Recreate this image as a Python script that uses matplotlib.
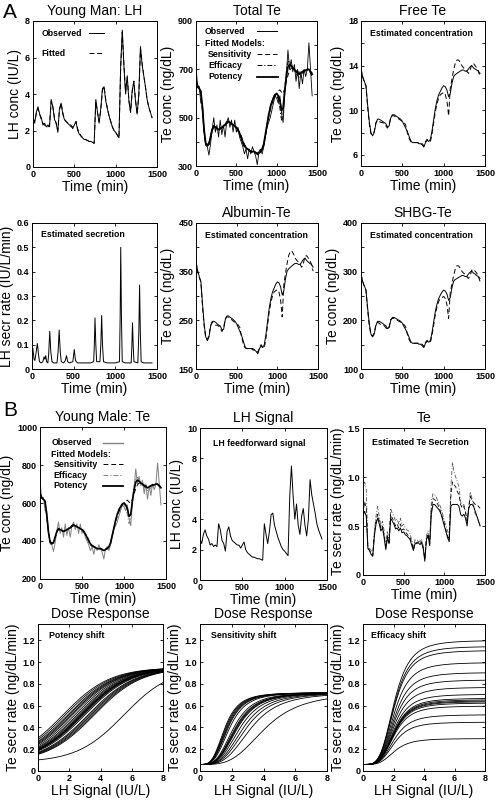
import numpy as np
import matplotlib
matplotlib.use("Agg")
import matplotlib.pyplot as plt

plt.rcParams["font.family"] = ["Liberation Sans", "DejaVu Sans"]

FIG_W, FIG_H = 496, 802

# sampling grid of the 24-h profiles (min)
TIME = np.arange(0, 1441, 20)

# --- LH concentration (observed / fitted), IU/L ---
LH_OBS = [2.7, 2.4, 3.0, 3.3, 2.9, 2.7, 2.3, 2.4, 2.2, 2.3,
          2.2, 3.7, 3.3, 2.6, 2.4, 1.9, 3.2, 3.5, 2.9, 2.6,
          2.5, 2.4, 2.3, 2.3, 2.1, 2.3, 2.5, 2.0, 1.8, 1.7,
          1.6, 1.5, 1.5, 1.45, 1.4, 1.4, 1.35, 1.3, 3.7, 3.0,
          2.4, 3.2, 4.3, 4.4, 3.6, 3.2, 2.8, 2.5, 2.2, 2.0,
          1.9, 1.75, 1.6, 5.5, 7.5, 5.5, 4.0, 5.0, 3.6, 3.0,
          4.2, 4.7, 3.6, 2.9, 4.0, 6.6, 5.6, 5.0, 4.4, 3.7,
          3.3, 3.0, 2.7]
LH_FIT = [2.7, 2.5, 2.9, 3.2, 2.9, 2.6, 2.4, 2.3, 2.2, 2.2,
          2.3, 3.6, 3.3, 2.7, 2.4, 2.0, 3.1, 3.5, 3.0, 2.6,
          2.5, 2.4, 2.3, 2.2, 2.2, 2.3, 2.5, 2.1, 1.9, 1.7,
          1.6, 1.55, 1.5, 1.45, 1.4, 1.4, 1.35, 1.3, 3.6, 3.0,
          2.5, 3.1, 4.2, 4.4, 3.7, 3.2, 2.8, 2.5, 2.2, 2.0,
          1.9, 1.75, 1.6, 5.3, 7.4, 5.6, 4.1, 4.9, 3.7, 3.0,
          4.1, 4.7, 3.7, 2.9, 3.9, 6.5, 5.7, 5.0, 4.4, 3.7,
          3.3, 3.0, 2.7]

# --- LH secretion rate (IU/L/min), pulse profile ---
LH_SEC_T = [0, 10, 25, 35, 50, 64, 78, 90, 110, 130, 145, 155, 165, 175,
            190, 200, 213, 226, 240, 260, 300, 313, 326, 339, 352, 380,
            400, 414, 428, 450, 490, 507, 522, 545, 640, 700, 740, 748,
            756, 766, 776, 815, 826, 836, 846, 858, 900, 1000, 1050, 1058,
            1065, 1073, 1083, 1120, 1190, 1198, 1206, 1215, 1224, 1270,
            1282, 1291, 1300, 1310, 1340, 1440]
LH_SEC = [0.09, 0.085, 0.04, 0.035, 0.07, 0.105, 0.06, 0.03, 0.025, 0.03,
          0.05, 0.04, 0.055, 0.03, 0.025, 0.06, 0.155, 0.07, 0.03, 0.025,
          0.025, 0.07, 0.16, 0.07, 0.03, 0.025, 0.035, 0.055, 0.03, 0.025,
          0.03, 0.08, 0.035, 0.025, 0.025, 0.025, 0.03, 0.10, 0.21, 0.10,
          0.03, 0.03, 0.10, 0.22, 0.10, 0.03, 0.025, 0.025, 0.03, 0.22,
          0.50, 0.22, 0.03, 0.025, 0.025, 0.09, 0.19, 0.09, 0.03, 0.025,
          0.15, 0.345, 0.15, 0.03, 0.025, 0.025]

# --- Total Te (ng/dL): observed and three fitted models ---
TE_OBS = [720, 625, 630, 560, 560, 450, 385, 380, 345, 390,
          450, 500, 440, 470, 420, 490, 430, 470, 420, 480,
          500, 460, 490, 440, 490, 440, 460, 420, 400, 380,
          350, 370, 330, 370, 350, 380, 360, 340, 305, 360,
          370, 350, 380, 420, 460, 480, 500, 530, 560, 590,
          580, 560, 590, 520, 480, 600, 680, 780, 700, 740,
          690, 720, 650, 700, 620, 690, 640, 700, 670, 700,
          810, 700, 590]
TE_SENS = [640, 625, 615, 600, 530, 445, 400, 390, 395, 420,
           445, 460, 458, 455, 452, 455, 458, 462, 468, 475,
           480, 478, 474, 470, 466, 460, 452, 440, 425, 405,
           390, 378, 372, 366, 362, 360, 360, 357, 354, 356,
           362, 372, 392, 428, 465, 500, 530, 555, 575, 590,
           600, 610, 615, 605, 600, 620, 650, 675, 695, 705,
           705, 700, 695, 690, 688, 690, 693, 695, 697, 698,
           698, 692, 685]
TE_EFF = [660, 635, 625, 605, 535, 440, 390, 380, 392, 425,
          455, 468, 462, 456, 448, 452, 458, 466, 472, 482,
          486, 482, 476, 470, 464, 456, 445, 430, 412, 392,
          378, 370, 366, 362, 358, 357, 356, 352, 346, 352,
          358, 366, 385, 425, 468, 510, 545, 570, 585, 600,
          595, 575, 540, 490, 520, 620, 690, 730, 735, 720,
          705, 695, 685, 675, 665, 670, 680, 690, 695, 700,
          695, 685, 670]
TE_POT = [650, 630, 620, 610, 540, 450, 395, 385, 390, 420,
          450, 465, 460, 455, 450, 455, 460, 465, 470, 480,
          485, 480, 475, 470, 465, 460, 450, 435, 420, 400,
          385, 375, 370, 365, 360, 360, 360, 355, 350, 355,
          360, 370, 390, 430, 470, 510, 540, 565, 580, 595,
          600, 590, 570, 530, 540, 610, 670, 710, 720, 715,
          705, 700, 690, 685, 680, 685, 690, 695, 695, 700,
          700, 690, 680]

# --- Estimated free / albumin-bound / SHBG-bound Te (ng/dL) ---
FREE_A = [13.7, 13.0, 12.6, 12.2, 10.5, 9.0, 8.0, 7.7, 8.0, 8.8,
          9.2, 9.2, 9.1, 9.0, 8.9, 8.8, 8.5, 8.6, 9.3, 9.6,
          9.6, 9.5, 9.4, 9.3, 9.2, 9.0, 8.7, 8.4, 8.1, 7.7,
          7.3, 7.1, 7.1, 7.1, 7.1, 7.0, 7.0, 6.9, 6.7, 7.1,
          7.3, 7.2, 7.4, 8.2, 9.2, 10.2, 10.9, 11.4, 11.7, 12.0,
          12.2, 12.1, 11.8, 11.2, 11.5, 12.4, 13.0, 13.2, 13.3, 13.4,
          13.5, 13.6, 13.6, 13.5, 13.5, 13.7, 13.9, 14.0, 13.8, 13.7,
          13.6, 13.5, 13.3]
FREE_B = [13.7, 13.0, 12.5, 12.2, 10.3, 8.8, 7.9, 7.8, 8.1, 8.9,
          9.1, 9.0, 8.9, 8.9, 8.8, 8.6, 8.4, 8.7, 9.4, 9.5,
          9.5, 9.4, 9.3, 9.2, 9.1, 9.0, 8.9, 8.7, 8.0, 7.5,
          7.2, 7.1, 7.1, 7.1, 7.1, 7.1, 7.0, 7.0, 6.8, 7.2,
          7.4, 7.2, 7.2, 7.9, 8.9, 9.9, 10.6, 11.1, 11.4, 11.5,
          11.6, 11.4, 10.8, 9.5, 12.0, 12.8, 13.6, 14.2, 14.5, 14.5,
          14.3, 14.0, 13.8, 13.7, 13.5, 13.3, 13.6, 14.1, 14.2, 14.0,
          13.8, 13.5, 13.0]
ALB_A = [372, 352, 340, 330, 284, 243, 216, 208, 216, 238,
         248, 248, 246, 243, 240, 238, 230, 232, 251, 259,
         259, 256, 254, 251, 248, 243, 235, 227, 219, 208,
         197, 192, 192, 192, 192, 189, 189, 186, 181, 192,
         197, 194, 200, 221, 248, 275, 294, 308, 316, 324,
         329, 327, 319, 302, 311, 335, 351, 356, 359, 362,
         365, 367, 367, 365, 365, 370, 375, 378, 373, 370,
         367, 365, 359]
ALB_B = [370, 351, 338, 329, 278, 238, 213, 211, 219, 240,
         246, 243, 240, 240, 238, 232, 227, 235, 254, 257,
         257, 254, 251, 248, 246, 243, 240, 235, 216, 203,
         194, 192, 192, 192, 192, 192, 189, 189, 184, 194,
         200, 194, 194, 213, 240, 267, 286, 300, 308, 311,
         313, 308, 292, 257, 324, 346, 367, 383, 392, 392,
         386, 378, 373, 370, 365, 359, 367, 381, 383, 378,
         373, 365, 351]
SHBG_A = [295, 280, 271, 262, 226, 194, 172, 166, 172, 189,
          198, 198, 196, 194, 191, 189, 183, 185, 200, 206,
          206, 204, 202, 200, 198, 194, 187, 181, 174, 166,
          157, 153, 153, 153, 153, 151, 151, 148, 144, 153,
          157, 155, 159, 176, 198, 219, 234, 245, 252, 258,
          262, 260, 254, 241, 247, 267, 280, 284, 286, 288,
          290, 292, 292, 290, 290, 295, 299, 301, 297, 295,
          292, 290, 286]
SHBG_B = [295, 280, 269, 262, 221, 189, 170, 168, 174, 191,
          196, 194, 191, 191, 189, 185, 181, 187, 202, 204,
          204, 202, 200, 198, 196, 194, 191, 187, 172, 161,
          155, 153, 153, 153, 153, 153, 151, 151, 146, 155,
          159, 155, 155, 170, 191, 213, 228, 239, 245, 247,
          249, 245, 232, 204, 258, 275, 292, 305, 312, 312,
          307, 301, 297, 295, 290, 286, 292, 303, 305, 301,
          297, 290, 280]

# --- Estimated Te secretion (ng/dL/min) for each model ---
TESEC_EFF = [0.85, 0.95, 0.88, 0.30, 0.27, 0.25, 0.22, 0.45, 0.60, 0.70,
             0.60, 0.50, 0.55, 0.45, 0.30, 0.45, 0.35, 0.68, 0.63, 0.60,
             0.55, 0.57, 0.52, 0.58, 0.50, 0.52, 0.48, 0.46, 0.45, 0.42,
             0.35, 0.28, 0.36, 0.35, 0.36, 0.34, 0.36, 0.30, 0.18, 0.40,
             0.45, 0.35, 0.75, 0.83, 0.82, 0.80, 0.75, 0.72, 0.68, 0.62,
             0.55, 0.50, 0.45, 0.40, 0.90, 1.15, 1.05, 1.00, 0.95, 0.90,
             0.75, 0.70, 0.72, 0.65, 0.55, 0.70, 0.85, 0.78, 0.70, 0.62,
             0.60, 0.55, 0.50]
TESEC_SENS = [0.62, 0.75, 0.68, 0.28, 0.25, 0.22, 0.20, 0.42, 0.55, 0.62,
              0.55, 0.47, 0.50, 0.40, 0.28, 0.40, 0.33, 0.62, 0.58, 0.55,
              0.50, 0.52, 0.48, 0.52, 0.46, 0.47, 0.44, 0.42, 0.40, 0.38,
              0.32, 0.26, 0.33, 0.33, 0.34, 0.32, 0.34, 0.28, 0.16, 0.37,
              0.42, 0.32, 0.68, 0.78, 0.77, 0.75, 0.72, 0.68, 0.63, 0.58,
              0.52, 0.46, 0.40, 0.36, 0.80, 0.95, 0.92, 0.90, 0.85, 0.82,
              0.72, 0.68, 0.70, 0.64, 0.55, 0.68, 0.80, 0.76, 0.74, 0.72,
              0.72, 0.70, 0.68]
TESEC_POT = [0.60, 0.65, 0.60, 0.27, 0.25, 0.21, 0.19, 0.40, 0.52, 0.58,
             0.52, 0.45, 0.48, 0.38, 0.26, 0.38, 0.32, 0.58, 0.55, 0.52,
             0.47, 0.48, 0.45, 0.48, 0.43, 0.44, 0.41, 0.40, 0.38, 0.36,
             0.30, 0.25, 0.32, 0.32, 0.33, 0.31, 0.33, 0.27, 0.14, 0.36,
             0.40, 0.30, 0.62, 0.72, 0.72, 0.70, 0.68, 0.66, 0.62, 0.56,
             0.50, 0.44, 0.38, 0.34, 0.70, 0.72, 0.72, 0.72, 0.72, 0.70,
             0.62, 0.60, 0.62, 0.58, 0.50, 0.68, 0.72, 0.72, 0.70, 0.65,
             0.60, 0.55, 0.50]

# --- Dose-response curve parameters (one entry per curve) ---
LH_DOSE = np.linspace(0, 8, 161)
POT_CENTER = [1.6, 1.75, 1.9, 2.0, 2.1, 2.2, 2.35, 2.5, 2.6, 2.7, 2.75,
              2.8, 2.85, 2.9, 3.0, 3.2, 3.3, 3.4, 3.5, 3.6, 5.5]
POT_BASE, POT_TOP, POT_SCALE = 0.08, 0.95, 1.5
SENS_EC50 = [1.55, 1.6, 1.65, 1.7, 1.75, 1.85, 2.1, 2.2, 2.25, 2.3, 2.35,
             2.5, 2.7, 2.9, 3.2, 4.1]
SENS_BASE, SENS_TOP, SENS_HILL = 0.06, 0.72, 3.5
EFF_TOP = [1.2, 1.145, 1.108, 0.997, 0.905, 0.837, 0.769, 0.705, 0.668,
           0.655, 0.645, 0.637, 0.625, 0.597, 0.517, 0.449, 0.298]
EFF_BASE, EFF_EC50, EFF_HILL = 0.06, 2.05, 4.0

DASH = (0, (5, 3))
DASHDOT = (0, (5, 2, 1.2, 2))


def px_axes(fig, left, top, right, bottom):
    return fig.add_axes([left / FIG_W, 1 - bottom / FIG_H,
                         (right - left) / FIG_W, (bottom - top) / FIG_H])


def style(ax, xlim, ylim, xticks, xlabels, yticks, ylabels, xlabel, ylabel, title):
    ax.set_xlim(*xlim)
    ax.set_ylim(*ylim)
    ax.set_xticks(xticks)
    ax.set_xticklabels(xlabels)
    ax.set_yticks(yticks)
    ax.set_yticklabels(ylabels)
    ax.tick_params(direction="in", top=True, right=True, length=2.5,
                   width=0.6, labelsize=6.5, pad=2)
    for lab in ax.get_xticklabels() + ax.get_yticklabels():
        lab.set_fontweight("bold")
    for sp in ax.spines.values():
        sp.set_linewidth(0.7)
    ax.set_xlabel(xlabel, fontsize=10, labelpad=1)
    ax.set_ylabel(ylabel, fontsize=10, labelpad=2)
    if title:
        ax.set_title(title, fontsize=10, pad=4)


def note(ax, x, y, s):
    ax.text(x, y, s, transform=ax.transAxes, fontsize=6.3, fontweight="bold",
            va="center", ha="left")


def key(ax, x0, x1, y, **kw):
    ax.plot([x0, x1], [y, y], transform=ax.transAxes, **kw)


def time_ticks(ax, ylim, yticks, ylabels, ylabel, title):
    style(ax, (0, 1500), ylim, [0, 500, 1000, 1500], ["0", "500", "1000", "1500"],
          yticks, ylabels, "Time (min)", ylabel, title)


def skip_labels(ticks, fmt="{:g}"):
    return [fmt.format(v) if i % 2 == 0 else "" for i, v in enumerate(ticks)]


fig = plt.figure(figsize=(FIG_W / 100, FIG_H / 100), dpi=100)
fig.patch.set_facecolor("white")
lw = 0.7
RIGHT = 485

# ---------------- Panel A, row 1 ----------------
ax = px_axes(fig, 33, 21, 157, 167)
ax.plot(TIME, LH_OBS, color="black", lw=lw)
ax.plot(TIME, LH_FIT, color="black", lw=lw, ls=DASH)
time_ticks(ax, (0, 8), [0, 2, 4, 6, 8], ["0", "2", "4", "6", "8"],
           "LH conc (IU/L)", "Young Man: LH")
note(ax, 0.07, 0.915, "Observed")
key(ax, 0.45, 0.57, 0.915, color="black", lw=lw)
note(ax, 0.07, 0.78, "Fitted")
key(ax, 0.45, 0.57, 0.78, color="black", lw=lw, ls=DASH)

ax = px_axes(fig, 196, 21, 317, 166)
ax.plot(TIME, TE_OBS, color="black", lw=0.6)
ax.plot(TIME, TE_SENS, color="black", lw=lw, ls=DASH)
ax.plot(TIME, TE_EFF, color="black", lw=lw, ls=DASHDOT)
ax.plot(TIME, TE_POT, color="black", lw=1.3)
yt = list(range(300, 901, 100))
time_ticks(ax, (300, 900), yt, skip_labels(yt), "Te conc (ng/dL)", "Total Te")
note(ax, 0.075, 0.93, "Observed")
key(ax, 0.50, 0.67, 0.93, color="black", lw=lw)
note(ax, 0.075, 0.845, "Fitted Models:")
note(ax, 0.10, 0.77, "Sensitivity")
key(ax, 0.50, 0.67, 0.77, color="black", lw=lw, ls=DASH)
note(ax, 0.10, 0.695, "Efficacy")
key(ax, 0.50, 0.67, 0.695, color="black", lw=lw, ls=DASHDOT)
note(ax, 0.10, 0.617, "Potency")
key(ax, 0.50, 0.68, 0.617, color="black", lw=1.3)

ax = px_axes(fig, 361, 21, RIGHT, 166)
ax.plot(TIME, FREE_A, color="black", lw=lw)
ax.plot(TIME, FREE_B, color="black", lw=lw, ls=DASH)
yt = list(range(6, 19, 2))
time_ticks(ax, (5, 18), yt, skip_labels(yt), "Te conc (ng/dL)", "Free Te")
note(ax, 0.07, 0.913, "Estimated concentration")

# ---------------- Panel A, row 2 ----------------
ax = px_axes(fig, 32, 223, 157, 369)
ax.plot(LH_SEC_T, LH_SEC, color="black", lw=lw)
yt = [0, 0.1, 0.2, 0.3, 0.4, 0.5, 0.6]
time_ticks(ax, (0, 0.6), yt, ["0", "0.1", "0.2", "0.3", "0.4", "0.5", "0.6"],
           "LH secr rate (IU/L/min)", None)
note(ax, 0.075, 0.923, "Estimated secretion")

ax = px_axes(fig, 196, 223, 318, 369)
ax.plot(TIME, ALB_A, color="black", lw=lw)
ax.plot(TIME, ALB_B, color="black", lw=lw, ls=DASH)
yt = list(range(150, 451, 50))
time_ticks(ax, (150, 450), yt, skip_labels(yt), "Te conc (ng/dL)", "Albumin-Te")
note(ax, 0.07, 0.913, "Estimated concentration")

ax = px_axes(fig, 361, 223, RIGHT, 369)
ax.plot(TIME, SHBG_A, color="black", lw=lw)
ax.plot(TIME, SHBG_B, color="black", lw=lw, ls=DASH)
yt = list(range(100, 401, 50))
time_ticks(ax, (100, 400), yt, skip_labels(yt), "Te conc (ng/dL)", "SHBG-Te")
note(ax, 0.07, 0.913, "Estimated concentration")

# ---------------- Panel B, row 1 ----------------
ax = px_axes(fig, 40, 427, 166, 579)
ax.plot(TIME, TE_OBS, color="#808080", lw=0.7)
ax.plot(TIME, TE_SENS, color="black", lw=lw, ls=DASH)
ax.plot(TIME, TE_EFF, color="#808080", lw=lw, ls=DASHDOT)
ax.plot(TIME, TE_POT, color="black", lw=1.2)
yt = [200, 400, 600, 800, 1000]
time_ticks(ax, (200, 1000), yt, [str(v) for v in yt], "Te conc (ng/dL)",
           "Young Male: Te")
note(ax, 0.09, 0.895, "Observed")
key(ax, 0.50, 0.66, 0.895, color="#808080", lw=1.0)
note(ax, 0.09, 0.822, "Fitted Models:")
note(ax, 0.11, 0.754, "Sensitivity")
key(ax, 0.50, 0.66, 0.754, color="black", lw=lw, ls=DASH)
note(ax, 0.11, 0.683, "Efficacy")
key(ax, 0.50, 0.66, 0.683, color="#808080", lw=lw, ls=DASHDOT)
note(ax, 0.11, 0.613, "Potency")
key(ax, 0.50, 0.66, 0.613, color="black", lw=1.3)

ax = px_axes(fig, 200, 428, 327, 580)
ax.plot(TIME, LH_OBS, color="black", lw=lw)
yt = [0, 2, 4, 6, 8, 10]
time_ticks(ax, (0, 10), yt, [str(v) for v in yt], "LH conc (IU/L)", "LH Signal")
note(ax, 0.105, 0.9, "LH feedforward signal")

ax = px_axes(fig, 363, 428, RIGHT, 575)
ax.plot(TIME, TESEC_EFF, color="#555555", lw=0.6, ls=DASHDOT)
ax.plot(TIME, TESEC_SENS, color="black", lw=0.6, ls=DASH)
ax.plot(TIME, TESEC_POT, color="black", lw=0.7)
yt = [0, 0.5, 1.0, 1.5]
time_ticks(ax, (0, 1.5), yt, ["0", "0.5", "1.0", "1.5"],
           "Te secr rate (ng/dL/min)", "Te")
note(ax, 0.072, 0.9, "Estimated Te Secretion")

# ---------------- Panel B, row 2: dose response ----------------
dose_yt = [0, 0.2, 0.4, 0.6, 0.8, 1.0, 1.2]
dose_yl = ["0", "0.2", "0.4", "0.6", "0.8", "1.0", "1.2"]
dose_xt = [0, 2, 4, 6, 8]

ax = px_axes(fig, 38, 624, 163, 771)
for c in POT_CENTER:
    resp = POT_BASE + (POT_TOP - POT_BASE) / (1 + np.exp(-(LH_DOSE - c) / POT_SCALE))
    ax.plot(LH_DOSE, resp, color="black", lw=0.6)
style(ax, (0, 8), (0, 1.35), dose_xt, [str(v) for v in dose_xt], dose_yt, dose_yl,
      "LH Signal (IU/L)", "Te secr rate (ng/dL/min)", "Dose Response")
note(ax, 0.088, 0.92, "Potency shift")

ax = px_axes(fig, 200, 624, 327, 771)
for k in SENS_EC50:
    h = LH_DOSE ** SENS_HILL
    resp = SENS_BASE + (SENS_TOP - SENS_BASE) * h / (h + k ** SENS_HILL)
    ax.plot(LH_DOSE, resp, color="black", lw=0.6)
style(ax, (0, 8), (0, 1.35), dose_xt, [str(v) for v in dose_xt], dose_yt, dose_yl,
      "LH Signal (IU/L)", "Te secr rate (ng/dL/min)", "Dose Response")
note(ax, 0.087, 0.92, "Sensitivity shift")

ax = px_axes(fig, 363, 624, RIGHT, 771)
for top in EFF_TOP:
    h = LH_DOSE ** EFF_HILL
    resp = EFF_BASE + (top - EFF_BASE) * h / (h + EFF_EC50 ** EFF_HILL)
    ax.plot(LH_DOSE, resp, color="black", lw=0.6)
style(ax, (0, 8), (0, 1.35), dose_xt, [str(v) for v in dose_xt], dose_yt, dose_yl,
      "LH Signal (IU/L)", "Te secr rate (ng/dL/min)", "Dose Response")
note(ax, 0.066, 0.92, "Efficacy shift")

# panel letters
fig.text(3 / FIG_W, 1 - 12 / FIG_H, "A", fontsize=15, va="center", ha="left")
fig.text(3 / FIG_W, 1 - 411 / FIG_H, "B", fontsize=15, va="center", ha="left")

fig.savefig("out.png", dpi=100, facecolor="white")
